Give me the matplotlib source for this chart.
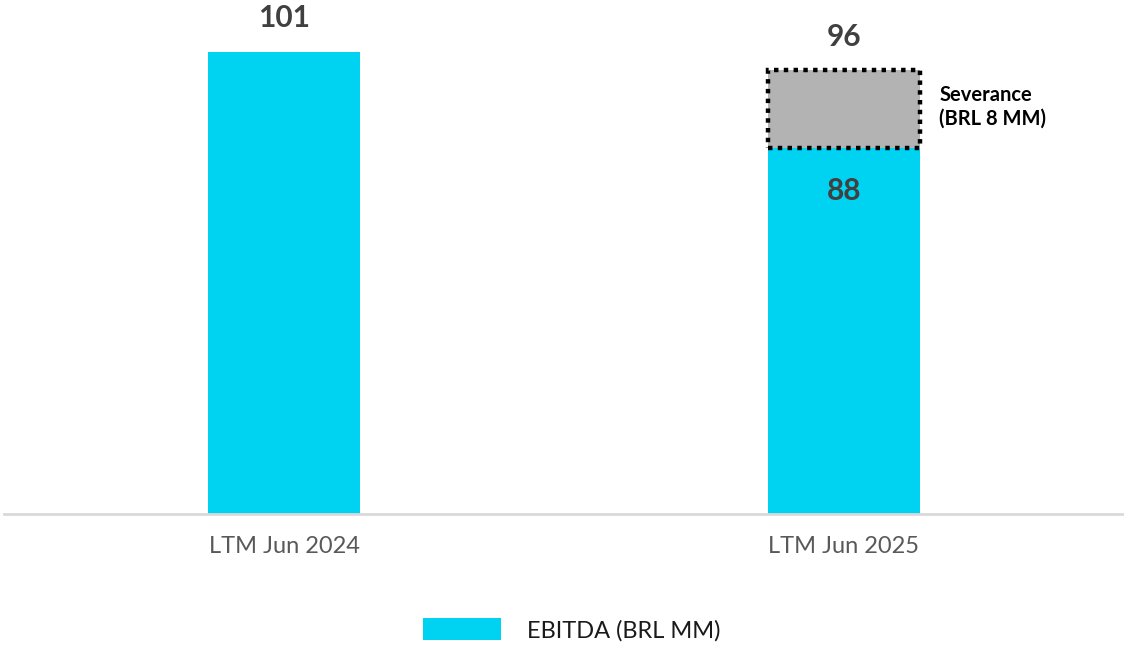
import numpy as np
import matplotlib
matplotlib.use("Agg")
import matplotlib.pyplot as plt
from matplotlib.patches import Patch

plt.rcParams['font.family'] = ['Lato', 'DejaVu Sans']

# -----------------------------
# Data
# -----------------------------
categories = ["LTM Jun 2024", "LTM Jun 2025"]
ebitda_bar = [101, 80]        # drawn cyan heights
severance_bar = [0, 17]       # drawn grey box height
total_labels = ["101", "96"]
inner_label = "88"
severance_text = "Severance\n(BRL 8 MM)"
legend_label = "EBITDA (BRL MM)"

cyan = "#00D3F2"
grey = "#B3B3B3"
num_color = "#404040"

fig = plt.figure(figsize=(11.24, 6.46), dpi=100)
ax = fig.add_axes([0.0035, 0.204, 0.9965, 0.796])

x = np.arange(len(categories))
w = 0.272

ax.bar(x, ebitda_bar, width=w, color=cyan, zorder=2)
ax.bar(x[1], severance_bar[1], bottom=ebitda_bar[1], width=w,
       color=grey, edgecolor="black", linewidth=3.2, linestyle=(0, (1, 1.2)),
       zorder=3)

ax.set_xlim(-0.5, 1.5)
ax.set_ylim(0, 112.4)

# value labels
tops = [ebitda_bar[0], ebitda_bar[1] + severance_bar[1]]
for xi, top, lab in zip(x, tops, total_labels):
    ax.text(xi, top + 4.3, lab, ha="center", va="bottom", fontsize=21.5,
            fontweight="bold", color=num_color)
ax.text(x[1], ebitda_bar[1] - 6.3, inner_label, ha="center", va="top",
        fontsize=21.5, fontweight="bold", color=num_color)
ax.text(x[1] + w / 2 + 0.034, ebitda_bar[1] + severance_bar[1] / 2 + 0.5,
        severance_text, ha="left", va="center", fontsize=14.5,
        fontweight="bold", color="black", linespacing=1.25)

# axes styling
for s in ["top", "right", "left"]:
    ax.spines[s].set_visible(False)
ax.spines["bottom"].set_color("#D9D9D9")
ax.spines["bottom"].set_linewidth(2)
ax.set_yticks([])
ax.set_xticks(x)
ax.set_xticklabels(categories, fontsize=17, color="#595959")
ax.tick_params(axis="x", length=0, pad=16)

# legend
handles = [Patch(facecolor=cyan, edgecolor="none", label=legend_label)]
fig.legend(handles=handles, loc="center", bbox_to_anchor=(0.509, 0.025),
           frameon=False, fontsize=17, handlelength=3.3, handleheight=1.05,
           handletextpad=1.1, labelcolor="#1a1a1a")

fig.savefig("out.png", dpi=100)
